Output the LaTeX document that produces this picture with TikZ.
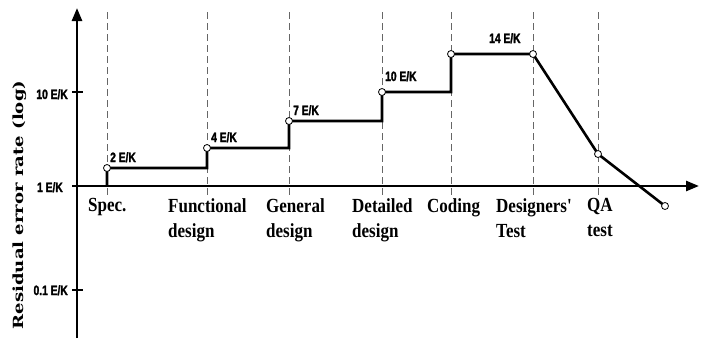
\documentclass[tikz,border=0pt]{standalone}
\usepackage{fontspec}
\usetikzlibrary{arrows.meta}
\newfontfamily\valfont{Liberation Sans Bold}[FakeStretch=0.76, FakeBold=2]
\newfontfamily\phasefont{Liberation Serif}[FakeStretch=0.85]
\newfontfamily\titlefont{DejaVu Serif}[FakeStretch=1.29]
\begin{document}
\begin{tikzpicture}[x=1pt,y=-1pt,
  axis/.style={line width=2.6pt},
  tick/.style={line width=1.1pt},
  guide/.style={black!60, line width=0.8pt, dash pattern=on 7pt off 4pt},
  curve/.style={line width=2.6pt, line join=miter},
  pt/.style={circle, draw, fill=white, line width=0.8pt, inner sep=0pt, minimum size=7pt},
  val/.style={font=\valfont\fontsize{13.5}{13.5}\selectfont, inner sep=0pt},
  phase/.style={font=\phasefont\bfseries\fontsize{20}{25}\selectfont, inner sep=0pt,
                anchor=north west, align=left},
  ahead/.style={-{Triangle[length=13pt,width=10pt]}}
]
\useasboundingbox (0,0) rectangle (703,338);

% dashed phase guides
\foreach \x [count=\i] in {107,207,289,382,451,533,598} {
  \coordinate (gt\i) at (\x,12);
  \coordinate (gb\i) at (\x,196);
  \draw[guide] (gt\i) -- (gb\i);
}

% axes
\coordinate (ybot) at (77,338);
\coordinate (ytop) at (77,8);
\coordinate (xbeg) at (77,186);
\coordinate (xend) at (699,186);
\draw[axis,ahead] (ybot) -- (ytop);
\draw[axis,ahead] (xbeg) -- (xend);

% ticks on the log scale
\foreach \y/\n in {92/a,186/b,290/c} {
  \coordinate (tl\n) at (72,\y);
  \coordinate (tr\n) at (83,\y);
  \draw[tick] (tl\n) -- (tr\n);
}
\node[val, anchor=base east] (lab10) at (68,99) {10 E/K};
\node[val, anchor=base east] (lab1) at (63,192) {1 E/K};
\node[val, anchor=base east] (lab01) at (68,295) {0.1 E/K};

% axis title
\node[rotate=90, inner sep=0pt, font=\titlefont\bfseries\fontsize{14}{14}\selectfont]
  (ytitle) at (20,205) {Residual error rate (log)};

% error-rate profile
\coordinate (s0) at (107,186);
\coordinate (p1) at (107,168);
\coordinate (c1) at (207,168);
\coordinate (p2) at (207,148);
\coordinate (c2) at (289,148);
\coordinate (p3) at (289,121);
\coordinate (c3) at (382,121);
\coordinate (p4) at (382,92);
\coordinate (c4) at (451,92);
\coordinate (p5) at (451,54);
\coordinate (p6) at (533,54);
\coordinate (p7) at (598,154);
\coordinate (p8) at (665,206);
\draw[curve] (s0) -- (p1) -- (c1) -- (p2) -- (c2) -- (p3) -- (c3) -- (p4)
  -- (c4) -- (p5) -- (p6) -- (p7) -- (p8);
\foreach \i in {1,...,8} { \node[pt] (n\i) at (p\i) {}; }

% rate values
\node[val, anchor=base west] (v2) at (110,162) {2 E/K};
\node[val, anchor=base west] (v4) at (211,142) {4 E/K};
\node[val, anchor=base west] (v7) at (293,115) {7 E/K};
\node[val, anchor=base west] (v10) at (385,81) {10 E/K};
\node[val, anchor=base west] (v14) at (489,43) {14 E/K};

% phase names
\node[phase] (ph1) at (88,198) {Spec.};
\node[phase] (ph2) at (168,198) {Functional\\design};
\node[phase] (ph3) at (266,198) {General\\design};
\node[phase] (ph4) at (352,198) {Detailed\\design};
\node[phase] (ph5) at (427,198) {Coding};
\node[phase] (ph6) at (496,198) {Designers'\\Test};
\node[phase] (ph7) at (587,198) {QA\\test};
\end{tikzpicture}
\end{document}
